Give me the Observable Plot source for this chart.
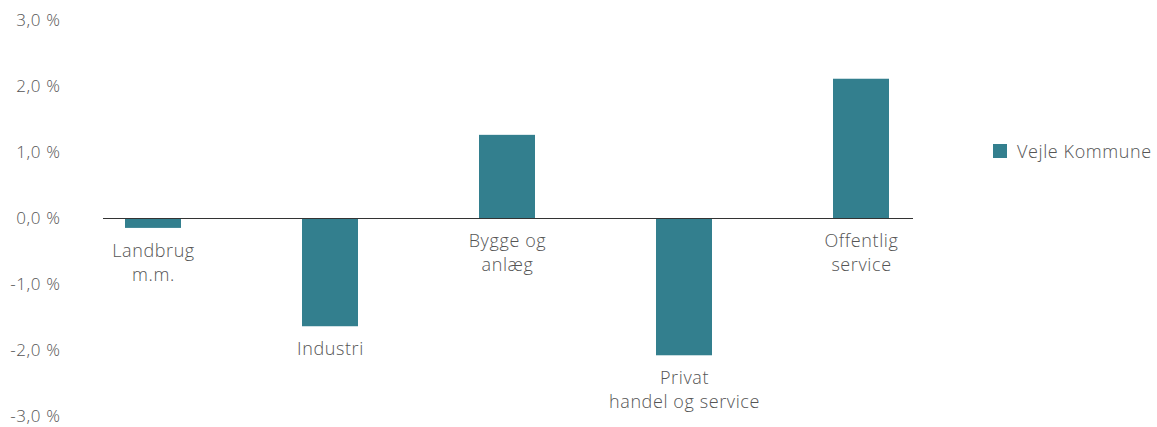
<!DOCTYPE html>
<html>
<head>
<meta charset="utf-8">
<script src="https://cdn.jsdelivr.net/npm/d3@7"></script>
<script src="https://cdn.jsdelivr.net/npm/@observablehq/plot@0.6"></script>
<style>
  body { margin: 0; background: #fff; font-family: "Open Sans", sans-serif; font-weight: 300; color: #555; }
  #wrap { position: relative; width: 1157px; height: 427px; }
  #legend { position: absolute; left: 993px; top: 139px; display: flex; align-items: center; font-size: 18px; letter-spacing: 0.6px; color: #555; }
  #legend .sw { width: 14px; height: 14px; background: #337f8e; margin-right: 10px; }
</style>
</head>
<body>
<div id="wrap"><div id="chart"></div><div id="legend"><div class="sw"></div><span>Vejle Kommune</span></div></div>
<script>
const categories = ["Landbrug\nm.m.", "Industri", "Bygge og\nanlæg", "Privat\nhandel og service", "Offentlig\nservice"];
const values = [-0.15, -1.64, 1.26, -2.08, 2.11];
const yTicks = [-3, -2, -1, 0, 1, 2, 3];
const seriesName = "Vejle Kommune";

const data = categories.map((c, i) => ({category: c, value: values[i]}));
const fmt = d => d.toFixed(1).replace(".", ",") + " %";

const chart = Plot.plot({
  width: 960,
  height: 427,
  marginLeft: 62,
  marginRight: 9,
  marginTop: 20,
  marginBottom: 11,
  style: {fontFamily: "'Open Sans', sans-serif", fontWeight: 300, color: "#555", fontSize: "17px", letterSpacing: "0.6px"},
  x: {domain: categories, paddingInner: 0.685, paddingOuter: 0.343, axis: null},
  y: {domain: [-3, 3], ticks: yTicks, tickFormat: fmt, label: null},
  marks: [
    Plot.axisY({ticks: yTicks, tickFormat: fmt, tickSize: 0, tickPadding: 2, label: null, fontSize: 17}),
    Plot.barY(data, {x: "category", y: "value", fill: "#337f8e"}),
    Plot.ruleY([0], {stroke: "#333", strokeWidth: 1.2, insetLeft: 41, insetRight: 38}),
    Plot.text(data, {
      x: "category",
      y: d => Math.min(0, d.value),
      text: "category",
      lineAnchor: "top",
      dy: 11,
      lineHeight: 1.34,
      fontSize: 18,
      fill: "#555"
    })
  ]
});
document.getElementById("chart").appendChild(chart);
</script>
</body>
</html>
